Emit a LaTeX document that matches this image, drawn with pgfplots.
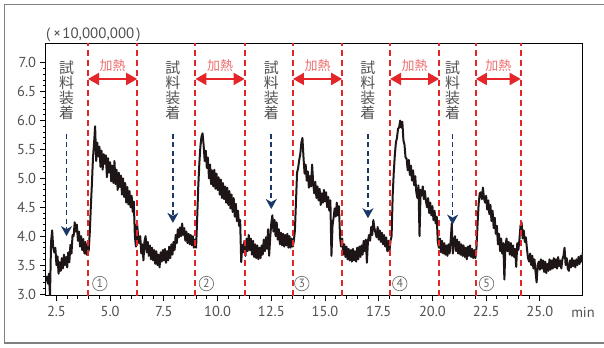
\documentclass[border=0pt]{standalone}
\usepackage{pgfplots}
\pgfplotsset{compat=1.18}
\usepackage{fontspec}
\setmainfont{PT Sans}
\newfontfamily\cjk{Noto Sans CJK JP}
\usetikzlibrary{arrows.meta}
\definecolor{trace}{RGB}{30,22,22}
\definecolor{heatred}{RGB}{228,38,43}
\definecolor{heattxt}{RGB}{238,110,110}
\definecolor{navy}{RGB}{28,56,104}
\definecolor{labgray}{RGB}{80,80,80}
\definecolor{frame}{RGB}{128,128,128}
\begin{document}
\begin{tikzpicture}[x=1bp,y=1bp]
\useasboundingbox (0,0) rectangle (604,347);
\draw[frame, line width=1.5bp] (4.5,4.2) rectangle (612,342.4);
\begin{axis}[
  at={(45.7bp,51.3bp)}, anchor=south west,
  scale only axis, width=537.1bp, height=252.4bp,
  xmin=2, xmax=27, ymin=2.97, ymax=7.337,
  xtick={2.5,5,...,25}, ytick={3,3.5,...,7},
  minor tick num=4,
  tick align=outside, tick pos=left,
  major tick length=5.7bp, minor tick length=3bp,
  every tick/.style={black, line width=0.9bp},
  axis line style={line width=1.2bp, black},
  /pgf/number format/assume math mode=true,
  /pgf/number format/.cd, fixed, fixed zerofill, precision=1, /pgfplots/.cd,
  ticklabel style={font=\fontsize{14.5}{14.5}\selectfont, text=labgray},
  xticklabel style={yshift=-1.5bp},
  yticklabel style={xshift=-0.5bp},
  clip=true,
]
\addplot[trace, line width=2bp, line join=round] table {
x y
2.00 3.22
2.05 3.30
2.10 3.18
2.15 3.35
2.20 2.97
2.25 3.90
2.30 4.10
2.35 3.80
2.40 3.72
2.45 3.80
2.50 3.50
2.55 3.65
2.60 3.35
2.65 3.55
2.70 3.40
2.75 3.62
2.80 3.44
2.85 3.68
2.90 3.50
2.95 3.64
3.00 3.46
3.05 3.72
3.10 3.55
3.15 3.85
3.20 3.70
3.25 4.02
3.30 4.00
3.35 4.24
3.40 4.08
3.45 4.20
3.50 3.92
3.55 4.08
3.60 3.82
3.65 4.00
3.70 3.76
3.75 3.95
3.80 3.70
3.85 3.90
3.90 3.68
3.95 3.86
4.00 3.74
4.05 4.05
4.10 4.50
4.15 4.90
4.20 5.35
4.25 5.60
4.30 5.90
4.35 5.30
4.40 5.62
4.45 5.38
4.50 5.55
4.55 5.20
4.60 5.48
4.65 5.15
4.70 5.42
4.75 5.25
4.80 5.40
4.85 5.02
4.90 5.35
4.95 5.10
5.00 5.28
5.05 4.95
5.10 5.22
5.15 4.92
5.20 5.30
5.25 4.90
5.30 5.15
5.35 4.80
5.40 5.10
5.45 4.85
5.50 5.05
5.55 4.72
5.60 5.00
5.65 4.68
5.70 4.92
5.75 4.58
5.80 4.85
5.85 4.55
5.90 4.78
5.95 4.50
6.00 4.70
6.05 4.42
6.10 4.60
6.15 4.00
6.20 3.82
6.25 4.22
6.30 4.02
6.35 3.88
6.40 4.00
6.45 3.70
6.50 3.86
6.55 3.58
6.60 3.92
6.65 4.00
6.70 3.72
6.75 3.90
6.80 3.66
6.85 3.84
6.90 3.60
6.95 3.80
7.00 3.58
7.05 3.76
7.10 3.52
7.15 3.74
7.20 3.50
7.25 3.68
7.30 3.46
7.35 3.72
7.40 3.56
7.45 3.76
7.50 3.58
7.55 3.78
7.60 3.54
7.65 3.74
7.70 3.58
7.75 3.82
7.80 3.62
7.85 3.86
7.90 3.68
7.95 3.90
8.00 3.76
8.05 4.02
8.10 3.88
8.15 4.12
8.20 3.98
8.25 4.15
8.30 4.00
8.35 4.22
8.40 4.02
8.45 4.14
8.50 3.92
8.55 4.08
8.60 3.88
8.65 4.04
8.70 3.86
8.75 4.02
8.80 3.84
8.85 4.00
8.90 3.80
8.95 3.94
9.00 3.80
9.05 4.30
9.10 4.85
9.15 5.25
9.20 5.55
9.25 5.72
9.30 5.78
9.35 5.58
9.40 5.30
9.45 5.48
9.50 5.18
9.55 5.36
9.60 5.00
9.65 5.24
9.70 4.90
9.75 5.14
9.80 4.86
9.85 5.15
9.90 4.82
9.95 5.08
10.00 4.80
10.05 5.02
10.10 4.72
10.15 4.98
10.20 4.66
10.25 4.92
10.30 4.64
10.35 4.86
10.40 4.58
10.45 4.84
10.50 4.54
10.55 4.78
10.60 4.48
10.65 4.72
10.70 4.42
10.75 4.66
10.80 4.34
10.85 4.56
10.90 4.26
10.95 4.44
11.00 4.18
11.05 4.28
11.10 3.55
11.15 3.85
11.20 3.72
11.25 3.92
11.30 3.66
11.35 3.96
11.40 3.74
11.45 4.02
11.50 3.76
11.55 3.96
11.60 3.68
11.65 3.92
11.70 3.64
11.75 3.86
11.80 3.62
11.85 3.84
11.90 3.60
11.95 3.80
12.00 3.62
12.05 3.84
12.10 3.68
12.15 3.94
12.20 3.74
12.25 3.98
12.30 3.78
12.35 4.12
12.40 3.66
12.45 3.98
12.50 4.22
12.55 4.36
12.60 4.08
12.65 4.28
12.70 4.00
12.75 4.24
12.80 3.94
12.85 4.12
12.90 3.86
12.95 4.06
13.00 3.84
13.05 4.04
13.10 3.82
13.15 4.02
13.20 3.84
13.25 4.04
13.30 3.80
13.35 4.00
13.40 3.80
13.45 3.96
13.50 3.82
13.55 3.92
13.60 4.10
13.65 4.60
13.70 5.10
13.75 5.18
13.80 5.32
13.85 5.42
13.90 5.62
13.95 5.70
14.00 5.36
14.05 5.08
14.10 5.24
14.15 4.96
14.20 5.12
14.25 4.84
14.30 5.04
14.35 4.86
14.40 5.24
14.45 4.92
14.50 4.74
14.55 4.94
14.60 4.66
14.65 4.86
14.70 4.62
14.75 4.82
14.80 4.54
14.85 4.74
14.90 4.58
14.95 4.80
15.00 4.60
15.05 4.76
15.10 4.50
15.15 4.68
15.20 4.44
15.25 4.62
15.30 3.66
15.35 4.18
15.40 4.32
15.45 4.48
15.50 4.34
15.55 4.58
15.60 4.36
15.65 4.52
15.70 3.98
15.75 3.82
15.80 3.96
15.85 3.68
15.90 3.86
15.95 3.64
16.00 3.82
16.05 3.60
16.10 3.78
16.15 3.58
16.20 3.76
16.25 3.56
16.30 3.78
16.35 3.58
16.40 3.74
16.45 3.56
16.50 3.80
16.55 3.60
16.60 3.82
16.65 3.64
16.70 3.84
16.75 3.68
16.80 3.92
16.85 3.74
16.90 3.94
16.95 3.54
17.00 3.92
17.05 4.02
17.10 3.92
17.15 4.16
17.20 4.02
17.25 4.28
17.30 4.14
17.35 4.06
17.40 3.98
17.45 4.16
17.50 3.94
17.55 4.10
17.60 3.90
17.65 4.06
17.70 3.86
17.75 4.02
17.80 3.82
17.85 3.98
17.90 3.74
17.95 3.92
18.00 3.74
18.05 3.92
18.10 4.00
18.15 4.70
18.20 5.10
18.25 5.40
18.30 5.62
18.35 5.70
18.40 5.86
18.45 5.88
18.50 6.00
18.55 5.88
18.60 5.98
18.65 5.66
18.70 5.58
18.75 5.36
18.80 5.34
18.85 5.14
18.90 5.32
18.95 5.06
19.00 5.22
19.05 4.96
19.10 5.14
19.15 4.88
19.20 5.04
19.25 4.76
19.30 4.66
19.35 4.88
19.40 4.00
19.45 4.80
19.50 4.70
19.55 4.86
19.60 4.64
19.65 4.78
19.70 4.60
19.75 4.50
19.80 4.66
19.85 4.40
19.90 4.58
19.95 4.36
20.00 4.52
20.05 4.28
20.10 4.44
20.15 4.22
20.20 4.34
20.25 3.90
20.30 3.80
20.35 3.96
20.40 3.72
20.45 3.92
20.50 3.70
20.55 3.88
20.60 3.68
20.65 3.84
20.70 3.66
20.75 3.86
20.80 3.70
20.85 3.92
20.90 4.22
20.95 3.70
21.00 3.88
21.05 4.00
21.10 3.74
21.15 3.94
21.20 3.70
21.25 3.90
21.30 3.68
21.35 3.86
21.40 3.66
21.45 3.84
21.50 3.64
21.55 3.80
21.60 3.60
21.65 3.82
21.70 3.66
21.75 3.84
21.80 3.64
21.85 3.78
21.90 3.62
21.95 3.76
22.00 3.62
22.05 3.80
22.10 4.20
22.15 4.55
22.20 4.74
22.25 4.76
22.30 4.64
22.35 4.84
22.40 4.66
22.45 4.58
22.50 4.70
22.55 4.46
22.60 4.62
22.65 4.38
22.70 4.54
22.75 4.26
22.80 4.44
22.85 4.14
22.90 4.32
22.95 4.04
23.00 4.18
23.05 3.86
23.10 4.04
23.15 3.74
23.20 3.96
23.25 3.70
23.30 3.88
23.35 3.25
23.40 3.84
23.45 3.96
23.50 3.74
23.55 3.90
23.60 3.68
23.65 3.88
23.70 3.66
23.75 3.84
23.80 3.64
23.85 3.78
23.90 3.47
23.95 3.88
24.00 3.76
24.05 3.94
24.10 4.18
24.15 4.24
24.20 3.96
24.25 4.10
24.30 3.90
24.35 3.98
24.40 3.78
24.45 3.62
24.50 3.56
24.55 3.70
24.60 3.50
24.65 3.66
24.70 3.44
24.75 3.60
24.80 3.38
24.85 3.20
24.90 3.50
24.95 3.56
25.00 3.42
25.05 3.60
25.10 3.44
25.15 3.58
25.20 3.38
25.25 3.56
25.30 3.36
25.35 3.52
25.40 3.40
25.45 3.60
25.50 3.42
25.55 3.58
25.60 3.44
25.65 3.62
25.70 3.46
25.75 3.60
25.80 3.44
25.85 3.64
25.90 3.48
25.95 3.58
26.00 3.44
26.05 3.60
26.10 3.66
26.15 3.80
26.20 3.50
26.25 3.62
26.30 3.44
26.35 3.40
26.40 3.58
26.45 3.46
26.50 3.62
26.55 3.48
26.60 3.58
26.65 3.46
26.70 3.60
26.75 3.50
26.80 3.64
26.85 3.52
26.90 3.66
26.95 3.56
27.00 3.72
};
% heating boundaries
\foreach \xx in {3.97,6.26,8.97,11.26,13.51,15.80,18.03,20.31,22.02,24.11}{
  \edef\temp{\noexpand\draw[heatred, line width=2bp, dash pattern=on 6bp off 4bp] (axis cs:\xx,2.97) -- (axis cs:\xx,7.337);}
  \temp
}
% heating arrows and labels
\foreach \a/\b in {3.97/6.26, 8.97/11.26, 13.51/15.80, 18.03/20.31, 22.02/24.11}{
  \edef\temp{\noexpand\draw[heatred, line width=2bp, {Triangle[length=11bp,width=12bp]}-{Triangle[length=11bp,width=12bp]}] (axis cs:\a,6.72) -- (axis cs:\b,6.72);
  \noexpand\node[text=heattxt, font=\noexpand\cjk\noexpand\fontsize{13}{13}\noexpand\selectfont] at (axis cs:{(\a+\b)/2},6.95) {加熱};}
  \temp
}
% sample loading labels and arrows
\foreach \xx/\tip in {2.97/4.00, 7.92/4.23, 12.50/4.47, 17.00/4.31, 20.94/4.20}{
  \edef\temp{\noexpand\node[anchor=north, text=labgray, align=center, inner sep=0pt, font=\noexpand\cjk\noexpand\fontsize{15}{15}\noexpand\selectfont] at (axis cs:\xx,7.03) {試\\料\\装\\着};
  \noexpand\draw[navy, line width=1.6bp, dash pattern=on 5bp off 3.5bp, -{Stealth[length=10bp,width=11bp,inset=3bp]}] (axis cs:\xx,5.77) -- (axis cs:\xx,\tip);}
  \temp
}
% circled numbers
\foreach \xx/\n in {4.52/1, 9.48/2, 13.92/3, 18.48/4, 22.52/5}{
  \edef\temp{\noexpand\node[circle, draw=labgray!80, line width=0.7bp, text=labgray!90, inner sep=0pt, minimum size=14.5bp, font=\noexpand\fontsize{12}{12}\noexpand\selectfont] at (axis cs:\xx,3.18) {\n};}
  \temp
}
\end{axis}
\node[anchor=base west, text=labgray, inner sep=0pt, font=\fontsize{15}{15}\selectfont] at (46,308.5) {(\hspace{3bp}×\hspace{1.5bp}10,000,000\hspace{2bp})};
\node[anchor=base, text=labgray, inner sep=0pt, font=\fontsize{14.5}{14.5}\selectfont] at (583,29.5) {min};
\end{tikzpicture}
\end{document}
